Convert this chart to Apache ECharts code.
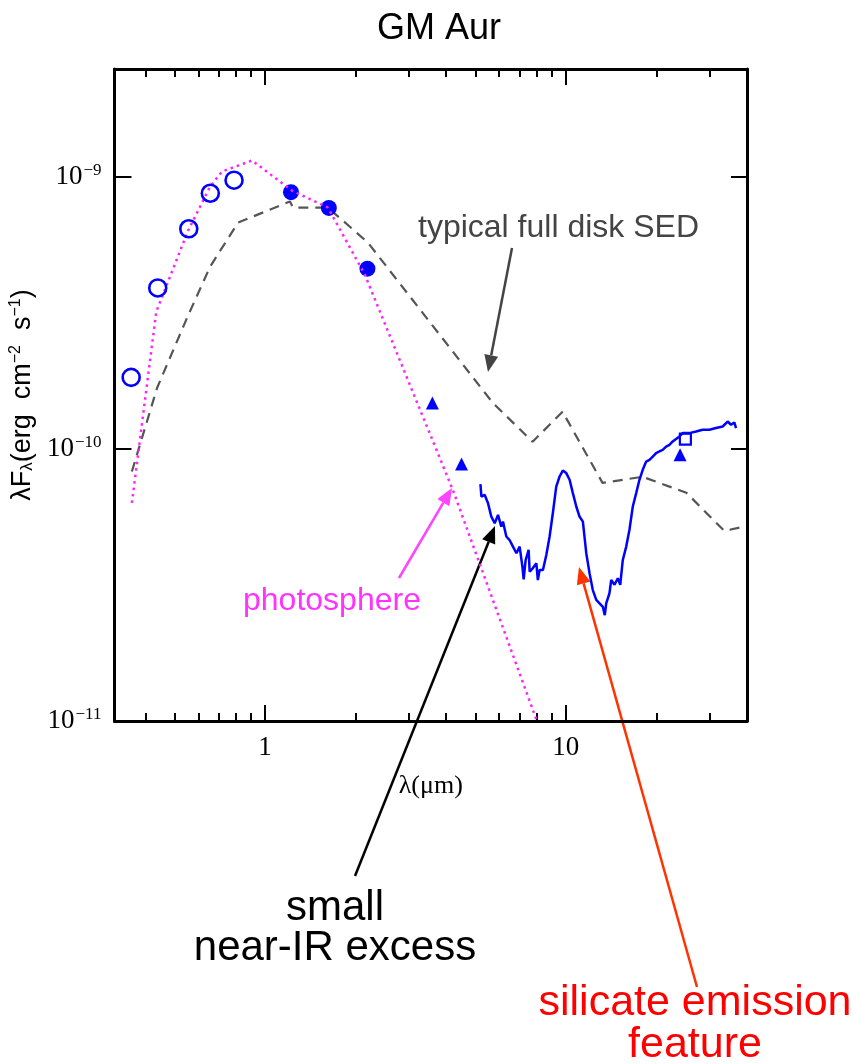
<!DOCTYPE html>
<html>
<head>
<meta charset="utf-8">
<script src="https://cdn.jsdelivr.net/npm/echarts@6/dist/echarts.min.js"></script>
<style>
  html, body { margin: 0; padding: 0; background: #fff; }
  #main { width: 853px; height: 1064px; }
</style>
</head>
<body>
<div id="main"></div>
<script>
// photometry (wavelength in micron, lambda F_lambda in erg cm^-2 s^-1)
const openWl = [0.359, 0.44, 0.558, 0.658, 0.789];
const openFlux = [1.835e-10, 3.915e-10, 6.46e-10, 8.73e-10, 9.75e-10];

const filledWl = [1.22, 1.63, 2.19];
const filledFlux = [8.81e-10, 7.71e-10, 4.61e-10];

const triWl = [3.6, 4.5, 23.97];
const triFlux = [1.477e-10, 8.81e-11, 9.53e-11];

const squareWl = [24.96];
const squareFlux = [1.088e-10];

// stellar photosphere
const photWl = [0.361, 0.435, 0.555, 0.657, 0.72, 0.906, 1.229, 1.619, 2.147, 4.21, 7.99];
const photFlux = [6.34e-11, 3.2e-10, 6.36e-10, 9.24e-10, 1.05e-9, 1.152e-9, 8.93e-10, 7.73e-10, 4.38e-10, 7.08e-11, 1.008e-11];

// typical full disk SED (median)
const medWl = [0.361, 0.438, 0.555, 0.657, 0.814, 1.21, 1.239, 1.619, 2.197, 5.71, 7.75, 9.75, 13.24, 17.97, 25.15, 33.63, 38.6];
const medFlux = [8.27e-11, 1.682e-10, 3.1e-10, 4.69e-10, 6.81e-10, 8.14e-10, 7.73e-10, 7.73e-10, 5.75e-10, 1.481e-10, 1.064e-10, 1.372e-10, 7.51e-11, 7.91e-11, 6.91e-11, 5.0e-11, 5.17e-11];

// IRS spectrum
const specWl = [5.2, 5.24, 5.37, 5.51, 5.65, 5.8, 5.95, 6.1, 6.18, 6.34, 6.5, 6.67, 6.85, 7.02, 7.17, 7.24, 7.35, 7.52, 7.58, 7.77,
  7.98, 8.07, 8.18, 8.39, 8.61, 8.83, 9.05, 9.29, 9.53, 9.77, 10.03, 10.29, 10.55, 10.83, 11.1, 11.39, 11.69, 11.99, 12.29, 12.62,
  12.94, 13.27, 13.47, 13.62, 13.96, 14.15, 14.51, 14.88, 15.16, 15.46, 15.87, 16.27, 16.69, 17.13, 17.56, 18.01, 18.49, 18.96, 19.45, 19.95,
  20.46, 20.98, 21.54, 22.09, 22.65, 23.85, 24.46, 25.74, 27.09, 28.49, 29.99, 31.56, 33.2, 34.49, 35.4, 36.3, 36.78];
const specFlux = [7.43e-11, 6.69e-11, 6.79e-11, 6.33e-11, 5.65e-11, 5.34e-11, 5.73e-11, 5.19e-11, 5.41e-11, 4.77e-11, 4.63e-11, 4.38e-11, 4.14e-11, 4.38e-11, 3.7e-11, 3.32e-11, 3.91e-11, 4.26e-11, 3.54e-11, 3.65e-11,
  3.8e-11, 3.3e-11, 3.59e-11, 3.59e-11, 4.08e-11, 4.77e-11, 5.81e-11, 7.28e-11, 7.93e-11, 8.34e-11, 8.16e-11, 7.71e-11, 6.89e-11, 6.15e-11, 5.65e-11, 5.41e-11, 4.14e-11, 3.49e-11, 3.03e-11, 2.79e-11,
  2.71e-11, 2.63e-11, 2.45e-11, 2.71e-11, 2.95e-11, 3.3e-11, 3.17e-11, 3.35e-11, 3.17e-11, 3.91e-11, 4.38e-11, 5.05e-11, 6.15e-11, 6.89e-11, 7.71e-11, 8.39e-11, 9.0e-11, 9.13e-11, 9.39e-11, 9.67e-11,
  9.8e-11, 9.94e-11, 1.022e-10, 1.037e-10, 1.067e-10, 1.113e-10, 1.145e-10, 1.145e-10, 1.161e-10, 1.178e-10, 1.178e-10, 1.195e-10, 1.211e-10, 1.263e-10, 1.229e-10, 1.253e-10, 1.195e-10];

// axis ticks
const xMajor = [1, 10];
const xMinor = [0.4, 0.5, 0.6, 0.7, 0.8, 0.9, 2, 3, 4, 5, 6, 7, 8, 9, 20, 30];
const yMajor = [1e-11, 1e-10, 1e-9];

const pairs = (xs, ys) => xs.map((x, i) => [x, ys[i]]);

const serif = "Liberation Serif";
const sans = "Liberation Sans";

function arrow(x1, y1, x2, y2, color) {
  const a = Math.atan2(y2 - y1, x2 - x1);
  const len = 17, half = 7;
  const bx = x2 - len * Math.cos(a), by = y2 - len * Math.sin(a);
  const nx = -Math.sin(a) * half, ny = Math.cos(a) * half;
  return [
    { type: "line", shape: { x1: x1, y1: y1, x2: bx, y2: by }, style: { stroke: color, lineWidth: 2.5 } },
    { type: "polygon", shape: { points: [[x2, y2], [bx + nx, by + ny], [bx - nx, by - ny]] }, style: { fill: color } },
  ];
}

function label(text, x, y, size, color, align) {
  return {
    type: "text", x: x, y: y,
    style: { text: text, fill: color, font: size + "px " + sans, align: align || "center", verticalAlign: "middle" },
  };
}

const xBase = { type: "log", min: 0.316, max: 40, gridIndex: 0, splitLine: { show: false } };

function xAxisDef(pos, values, len, withLine, withLabel) {
  return Object.assign({}, xBase, {
    position: pos,
    axisLine: { show: withLine, lineStyle: { color: "#000", width: 3 } },
    axisTick: { show: true, inside: true, length: len, customValues: values, lineStyle: { color: "#000", width: 2 } },
    axisLabel: withLabel
      ? { show: true, customValues: values, margin: 13, color: "#000", fontFamily: serif, fontSize: 27 }
      : { show: false },
  });
}

const yRich = {
  b: { fontFamily: serif, fontSize: 27, color: "#000" },
  s: { fontFamily: serif, fontSize: 17, color: "#000", padding: [0, 0, 13, 1] },
};

const chart = echarts.init(document.getElementById("main"));

const option = {
  animation: false,
  backgroundColor: "#fff",
  title: {
    text: "GM Aur",
    left: 372,
    top: 6,
    textStyle: { fontFamily: sans, fontSize: 36, fontWeight: "normal", color: "#000" },
  },
  grid: { left: 114, right: 106, top: 69, bottom: 343 },
  xAxis: [
    Object.assign(xAxisDef("bottom", xMajor, 16, true, true), {
      name: "λ(μm)", nameLocation: "middle", nameGap: 52,
      nameTextStyle: { fontFamily: serif, fontSize: 26, color: "#000" },
    }),
    xAxisDef("bottom", xMinor, 8, false, false),
    xAxisDef("top", xMajor, 16, true, false),
    xAxisDef("top", xMinor, 8, false, false),
  ],
  yAxis: [
    {
      type: "log", min: 1e-11, max: 2.5e-9, position: "left",
      splitLine: { show: false },
      axisLine: { show: true, lineStyle: { color: "#000", width: 3 } },
      axisTick: { show: true, inside: true, length: 17, customValues: yMajor, lineStyle: { color: "#000", width: 2 } },
      axisLabel: {
        show: true, customValues: yMajor, margin: 13,
        formatter: (v) => "{b|10}{s|−" + Math.round(-Math.log10(v)) + "}",
        rich: yRich,
      },
      name: "{a|λF}{d|λ}{a|(erg  cm}{u|−2}{a|  s}{u|−1}{a|)}",
      nameLocation: "middle", nameGap: 74, nameRotate: 90,
      nameTextStyle: {
        rich: {
          a: { fontFamily: sans, fontSize: 27, color: "#000" },
          d: { fontFamily: sans, fontSize: 17, color: "#000", padding: [10, 0, 0, 0] },
          u: { fontFamily: sans, fontSize: 16, color: "#000", padding: [0, 0, 13, 0] },
        },
      },
    },
    {
      type: "log", min: 1e-11, max: 2.5e-9, position: "right",
      splitLine: { show: false },
      axisLine: { show: true, lineStyle: { color: "#000", width: 3 } },
      axisTick: { show: true, inside: true, length: 16, customValues: yMajor, lineStyle: { color: "#000", width: 2 } },
      axisLabel: { show: false },
    },
  ],
  series: [
    {
      name: "full disk", type: "line", data: pairs(medWl, medFlux), symbol: "none",
      lineStyle: { color: "#555", width: 2.2, type: [10, 7] }, z: 2,
    },
    {
      name: "photosphere", type: "line", data: pairs(photWl, photFlux), symbol: "none",
      lineStyle: { color: "#ff22ff", width: 2.5, type: [2.5, 4] }, z: 4,
    },
    {
      name: "IRS", type: "line", data: pairs(specWl, specFlux), symbol: "none",
      lineStyle: { color: "#0000ff", width: 2.5 }, z: 3,
    },
    {
      name: "optical", type: "scatter", data: pairs(openWl, openFlux), symbol: "circle", symbolSize: 17,
      itemStyle: { color: "rgba(255,255,255,0)", borderColor: "#0000ff", borderWidth: 2.6, opacity: 1 }, z: 5,
    },
    {
      name: "2MASS", type: "scatter", data: pairs(filledWl, filledFlux), symbol: "circle", symbolSize: 16,
      itemStyle: { color: "#0000ff", opacity: 1 }, z: 3,
    },
    {
      name: "Spitzer", type: "scatter", data: pairs(triWl, triFlux), symbol: "triangle", symbolSize: 13,
      itemStyle: { color: "#0000ff", opacity: 1 }, z: 5,
    },
    {
      name: "IRAS", type: "scatter", data: pairs(squareWl, squareFlux), symbol: "rect", symbolSize: 11,
      itemStyle: { color: "rgba(255,255,255,0)", borderColor: "#0000ff", borderWidth: 2.2, opacity: 1 }, z: 5,
    },
  ],
  graphic: [
    label("typical full disk SED", 418, 228, 32, "#444", "left"),
    ...arrow(512, 248, 488, 372, "#444"),
    label("photosphere", 243, 601, 32, "#ff33ff", "left"),
    ...arrow(399, 578, 452, 488, "#ff44ff"),
    label("small", 335, 908, 42, "#000"),
    label("near-IR excess", 335, 948, 42, "#000"),
    ...arrow(355, 876, 495, 526, "#000"),
    label("silicate emission", 695, 1003, 43, "#ff0000"),
    label("feature", 695, 1045, 43, "#ff0000"),
    ...arrow(697, 987, 579, 567, "#ff3300"),
  ],
};

chart.setOption(option);
</script>
</body>
</html>
